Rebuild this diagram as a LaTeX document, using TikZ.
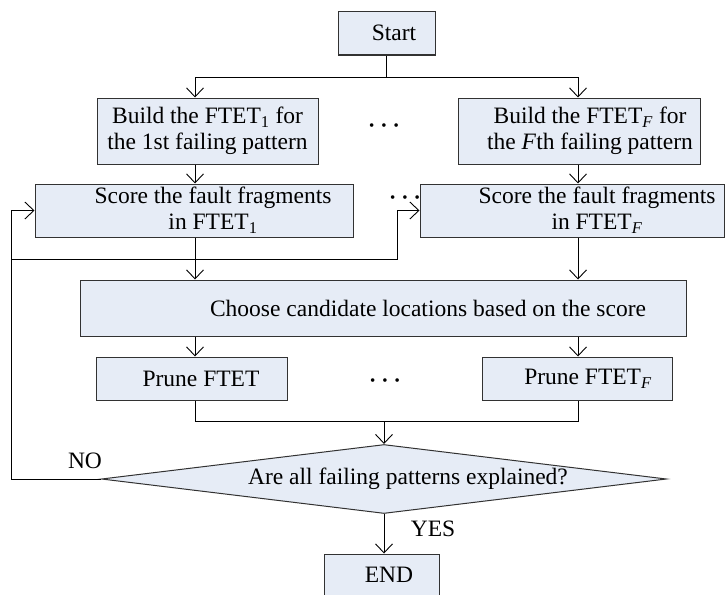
\documentclass[tikz,border=0pt]{standalone}
\usepackage{fontspec}
\setmainfont{Liberation Serif}
\usetikzlibrary{arrows.meta,shapes.geometric}
\definecolor{boxfill}{RGB}{230,236,246}
\definecolor{edge}{RGB}{50,50,50}
\begin{document}
\begin{tikzpicture}[x=1pt,y=-1pt,
  box/.style={draw=edge,line width=1pt,fill=boxfill,rectangle,inner sep=0pt},
  dia/.style={draw=edge,line width=1pt,fill=boxfill,diamond,inner sep=0pt},
  txt/.style={inner sep=0pt,font=\fontsize{23.5}{26}\selectfont,align=center},
  dotsnode/.style={inner sep=0pt,font=\fontsize{15}{15}\selectfont},
  conn/.style={draw=black,line width=0.9pt},
  arr/.style={conn,-{Straight Barb[length=9pt,width=17pt]}}]
\useasboundingbox (0,0) rectangle (727,594);
% boxes
\node[box,minimum width=97pt,minimum height=43pt] (start) at (386.5,33.5) {};
\node[box,minimum width=221pt,minimum height=66pt] (build1) at (207.5,131) {};
\node[box,minimum width=242pt,minimum height=66pt] (buildF) at (579,131) {};
\node[box,minimum width=318pt,minimum height=53pt] (score1) at (194,210.5) {};
\node[box,minimum width=304pt,minimum height=53pt] (scoreF) at (572,210.5) {};
\node[box,minimum width=606pt,minimum height=56pt] (choose) at (383,308) {};
\node[box,minimum width=191pt,minimum height=43pt] (prune1) at (191.5,378.5) {};
\node[box,minimum width=190pt,minimum height=43pt] (pruneF) at (577,378.5) {};
\node[dia,minimum width=565pt,minimum height=69pt] (dec) at (384,479) {};
\node[box,minimum width=115pt,minimum height=46pt] (end) at (381.5,577) {};
% texts
\node[txt] (startT) at (394,33) {Start};
\node[txt] (build1T) at (207.5,131) {Build the FTET\textsubscript{1} for\\the 1st failing pattern};
\node[txt] (buildFT) at (590,131) {Build the FTET\textsubscript{\textit{F}} for\\the \textit{F}th failing pattern};
\node[txt] (score1T) at (213,210.5) {Score the fault fragments\\in FTET\textsubscript{1}};
\node[txt] (scoreFT) at (597,210.5) {Score the fault fragments\\in FTET\textsubscript{\textit{F}}};
\node[txt] (chooseT) at (428,308) {Choose candidate locations based on the score};
\node[txt] (prune1T) at (201,378.5) {Prune FTET};
\node[txt] (pruneFT) at (588,378.5) {Prune FTET\textsubscript{\textit{F}}};
\node[txt] (decT) at (408,479) {Are all failing patterns explained?};
\node[txt] (endT) at (389,575) {END};
\node[txt] (noT) at (85,461) {NO};
\node[txt] (yesT) at (433,529) {YES};
% dots
\node[dotsnode] (dots1) at (384,127) {\textbullet\hspace{7pt}\textbullet\hspace{7pt}\textbullet};
\node[dotsnode] (dots2) at (405,199) {\textbullet\hspace{7pt}\textbullet\hspace{7pt}\textbullet};
\node[dotsnode] (dots3) at (385,382) {\textbullet\hspace{7pt}\textbullet\hspace{7pt}\textbullet};
% coordinates
\coordinate (j0) at (386.5,77);
\coordinate (c1) at (195,77);
\coordinate (cF) at (578,77);
\coordinate (m1) at (195,421);
\coordinate (mF) at (578,421);
\coordinate (mid) at (384,421);
\coordinate (fb) at (11,479);
\coordinate (br1) at (11,259);
\coordinate (br2) at (397,259);
% connectors
\draw[conn] (start.south) -- (j0);
\draw[conn] (c1) -- (cF);
\draw[arr] (c1) -- (c1 |- build1.north);
\draw[arr] (cF) -- (cF |- buildF.north);
\draw[arr] (c1 |- build1.south) -- (c1 |- score1.north);
\draw[arr] (cF |- buildF.south) -- (cF |- scoreF.north);
\draw[arr] (c1 |- score1.south) -- (c1 |- choose.north);
\draw[arr] (cF |- scoreF.south) -- (cF |- choose.north);
\draw[arr] (c1 |- choose.south) -- (c1 |- prune1.north);
\draw[arr] (cF |- choose.south) -- (cF |- pruneF.north);
\draw[conn] (m1 |- prune1.south) -- (m1) -- (mF) -- (mF |- pruneF.south);
\draw[arr] (mid) -- (dec.north);
\draw[arr] (dec.south) -- (dec.south |- end.north);
\draw[arr] (dec.west) -- (fb) -- (fb |- score1.west) -- (score1.west);
\draw[arr] (br1) -- (br2) -- (br2 |- scoreF.west) -- (scoreF.west);
\end{tikzpicture}
\end{document}
